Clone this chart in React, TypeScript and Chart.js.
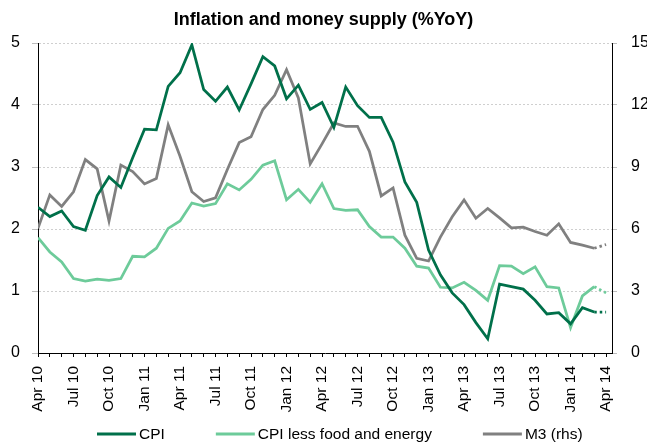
import React, { useEffect, useRef } from 'react';
import { Chart, registerables } from 'chart.js';

Chart.register(...registerables);

// Monthly observations, Apr 2010 (index 0) to Apr 2014 (index 48, provisional/dotted)
const tickLabels = [
  'Apr 10', 'Jul 10', 'Oct 10', 'Jan 11', 'Apr 11', 'Jul 11', 'Oct 11', 'Jan 12', 'Apr 12',
  'Jul 12', 'Oct 12', 'Jan 13', 'Apr 13', 'Jul 13', 'Oct 13', 'Jan 14', 'Apr 14',
];

const cpi = [
  2.35, 2.2, 2.29, 2.04, 1.98, 2.54, 2.84, 2.67, 3.15, 3.61, 3.6, 4.3,
  4.52, 4.97, 4.25, 4.06, 4.29, 3.92, 4.34, 4.78, 4.63, 4.1, 4.32, 3.93,
  4.04, 3.64, 4.29, 3.99, 3.8, 3.8, 3.4, 2.76, 2.43, 1.66, 1.26, 0.97,
  0.78, 0.49, 0.23, 1.11, 1.07, 1.03, 0.85, 0.63, 0.65, 0.47, 0.73, 0.66,
  0.66,
];

const cpiCore = [
  1.86, 1.63, 1.47, 1.2, 1.16, 1.19, 1.17, 1.2, 1.56, 1.55, 1.69, 2.01,
  2.13, 2.42, 2.37, 2.41, 2.73, 2.63, 2.8, 3.03, 3.1, 2.47, 2.64, 2.43,
  2.73, 2.33, 2.3, 2.31, 2.04, 1.87, 1.87, 1.69, 1.4, 1.37, 1.06, 1.05,
  1.14, 1.01, 0.85, 1.41, 1.4, 1.28, 1.39, 1.07, 1.05, 0.41, 0.92, 1.07,
  0.97,
];

const m3 = [
  6.03, 7.65, 7.09, 7.8, 9.36, 8.91, 6.38, 9.09, 8.78, 8.18, 8.44, 11.04,
  9.52, 7.8, 7.33, 7.51, 8.88, 10.18, 10.46, 11.78, 12.47, 13.71, 12.34, 9.15,
  10.12, 11.13, 10.96, 10.97, 9.76, 7.6, 7.99, 5.7, 4.58, 4.45, 5.61, 6.59,
  7.41, 6.52, 6.99, 6.54, 6.06, 6.09, 5.88, 5.7, 6.25, 5.35, 5.22, 5.07,
  5.25,
];

const seriesLabels = ['CPI', 'CPI less food and energy', 'M3 (rhs)'];

const FONT = '"Liberation Sans", Arial, Helvetica, sans-serif';
const toPoints = (arr: number[]) => arr.map((y, i) => ({ x: i, y }));
const lastIndex = cpi.length - 1;

const customLegend = {
  id: 'customLegend',
  afterDraw(chart: any) {
    const ctx = chart.ctx as CanvasRenderingContext2D;
    ctx.save();
    ctx.font = `15.5px ${FONT}`;
    ctx.textBaseline = 'middle';
    ctx.textAlign = 'left';
    let x = 97;
    const y = 434;
    chart.data.datasets.forEach((ds: any) => {
      ctx.strokeStyle = ds.borderColor;
      ctx.lineWidth = 3;
      ctx.beginPath();
      ctx.moveTo(x, y);
      ctx.lineTo(x + 39, y);
      ctx.stroke();
      x += 42;
      ctx.fillStyle = '#000';
      ctx.fillText(ds.label, x, y + 1);
      x += ctx.measureText(ds.label).width + 51;
    });
    ctx.restore();
  },
};

export default function App() {
  const ref = useRef<HTMLCanvasElement>(null);

  useEffect(() => {
    const dotted = (c: any) => (c.p1DataIndex === lastIndex ? [2.5, 3] : undefined);
    const chart = new Chart(ref.current as HTMLCanvasElement, {
      type: 'line',
      data: {
        datasets: [
          {
            label: seriesLabels[0],
            data: toPoints(cpi),
            borderColor: '#00704A',
            backgroundColor: '#00704A',
            borderWidth: 2.75,
            pointRadius: 0,
            tension: 0,
            yAxisID: 'y',
            segment: { borderDash: dotted },
          },
          {
            label: seriesLabels[1],
            data: toPoints(cpiCore),
            borderColor: '#6DCB9A',
            backgroundColor: '#6DCB9A',
            borderWidth: 2.75,
            pointRadius: 0,
            tension: 0,
            yAxisID: 'y',
            segment: { borderDash: dotted },
          },
          {
            label: seriesLabels[2],
            data: toPoints(m3),
            borderColor: '#808080',
            backgroundColor: '#808080',
            borderWidth: 2.75,
            pointRadius: 0,
            tension: 0,
            yAxisID: 'y1',
            segment: { borderDash: dotted },
          },
        ],
      },
      options: {
        animation: false,
        responsive: true,
        maintainAspectRatio: false,
        devicePixelRatio: 1,
        layout: { padding: { left: 0, right: 0, top: 0, bottom: 30 } },
        plugins: {
          legend: { display: false },
          tooltip: { enabled: false },
          title: {
            display: true,
            text: 'Inflation and money supply (%YoY)',
            color: '#000',
            font: { family: FONT, size: 18, weight: 'bold' },
            padding: { top: 9, bottom: 12.4 },
          },
        },
        scales: {
          x: {
            type: 'linear',
            min: 0,
            max: 48.5,
            afterBuildTicks: (scale: any) => {
              scale.ticks = cpi.map((_, i) => ({ value: i }));
            },
            afterFit: (scale: any) => {
              scale.height = 61;
            },
            ticks: {
              autoSkip: false,
              maxRotation: 90,
              minRotation: 90,
              padding: 9,
              color: '#000',
              font: { family: FONT, size: 15.5 },
              callback: (v: any) => (Number(v) % 3 === 0 ? tickLabels[Number(v) / 3] : ''),
            },
            grid: {
              drawOnChartArea: false,
              drawTicks: true,
              tickLength: 4,
              tickColor: '#000',
            },
            border: { display: true, color: '#000', width: 1 },
          },
          y: {
            position: 'left',
            min: 0,
            max: 5,
            afterFit: (scale: any) => {
              scale.width = 38;
            },
            ticks: {
              stepSize: 1,
              padding: 12,
              color: '#000',
              font: { family: FONT, size: 16 },
            },
            grid: {
              color: '#cfcfcf',
              lineWidth: 1,
              tickLength: 6,
              tickColor: '#bdbdbd',
              tickBorderDash: [],
            },
            border: { display: true, color: '#000', width: 1, dash: [2, 2] },
          },
          y1: {
            position: 'right',
            min: 0,
            max: 15,
            afterFit: (scale: any) => {
              scale.width = 35;
            },
            ticks: {
              stepSize: 3,
              padding: 14,
              color: '#000',
              font: { family: FONT, size: 16 },
            },
            grid: {
              drawOnChartArea: false,
              tickLength: 5,
              tickColor: '#bdbdbd',
            },
            border: { display: true, color: '#000', width: 1 },
          },
        },
      },
      plugins: [customLegend],
    } as any);
    return () => chart.destroy();
  }, []);

  return (
    <div style={{ position: 'absolute', left: 0, top: 0, width: 647, height: 444 }}>
      <canvas ref={ref} />
    </div>
  );
}
